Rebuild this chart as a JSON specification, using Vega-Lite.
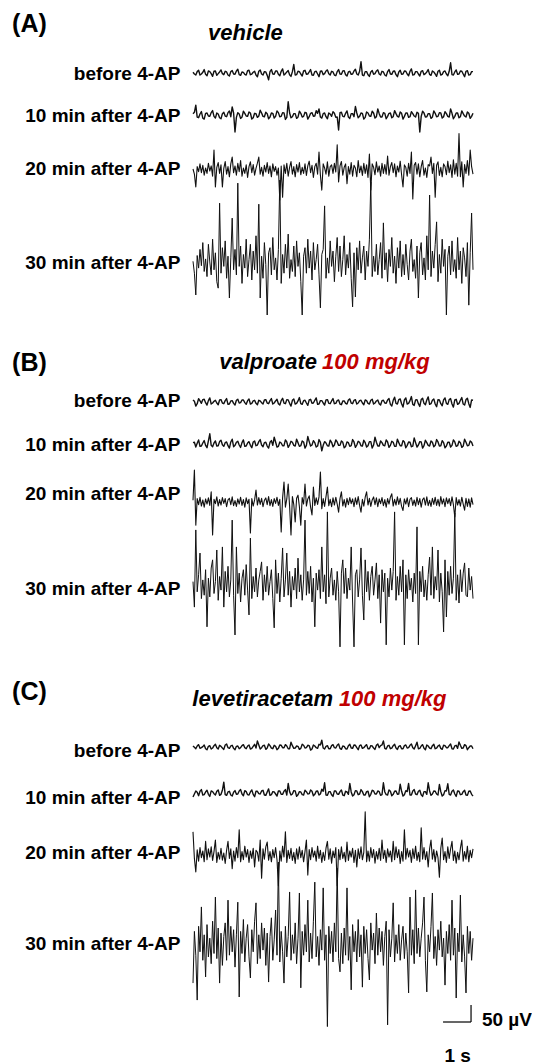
{
"$schema": "https://vega.github.io/schema/vega-lite/v6.json",
"background": "white",
"padding": {"left": 12, "top": 0, "right": 0, "bottom": 0},
"spacing": 0,
"bounds": "flush",
"config": {
  "view": {"stroke": null},
  "font": "Liberation Sans",
  "axis": {"domain": false, "ticks": false, "labels": false, "grid": false, "titleAngle": 0, "titleAlign": "right", "titleBaseline": "middle", "titleX": -13, "titleFont": "Liberation Sans", "titleFontSize": 19, "titleFontWeight": "bold", "titleColor": "#000"},
  "line": {"stroke": "#111", "strokeWidth": 1.0, "strokeJoin": "round"},
  "text": {"font": "Liberation Sans", "fontWeight": "bold", "fill": "#000", "baseline": "middle"}
},
"datasets": {
"slow": [
{"t":0,"A1":2,"A2":4,"B1":6,"B2":4,"C1":3,"C2":-12},
{"t":0.1,"A1":-6,"A2":29,"B1":-12,"B2":-9,"C1":-5,"C2":6},
{"t":0.2,"A1":8,"A2":-8,"B1":10,"B2":12,"C1":7,"C2":-8},
{"t":0.3,"A1":-3,"A2":10,"B1":-4,"B2":-6,"C1":-2,"C2":10},
{"t":0.4,"A1":10,"A2":-12,"B1":8,"B2":10,"C1":6,"C2":-5},
{"t":0.5,"A1":-8,"A2":6,"B1":-9,"B2":-11,"C1":-8,"C2":8},
{"t":0.6,"A1":4,"A2":-4,"B1":12,"B2":30,"C1":4,"C2":-10},
{"t":0.7,"A1":-10,"A2":13,"B1":-3,"B2":-8,"C1":-3,"C2":4},
{"t":0.8,"A1":6,"A2":-9,"B1":5,"B2":9,"C1":8,"C2":-6},
{"t":0.9,"A1":-2,"A2":3,"B1":-8,"B2":-5,"C1":-6,"C2":9},
{"t":1,"A1":9,"A2":-11,"B1":7,"B2":11,"C1":2,"C2":-4},
{"t":1.1,"A1":-5,"A2":8,"B1":-5,"B2":-7,"C1":-7,"C2":32},
{"t":1.2,"A1":3,"A2":-5,"B1":10,"B2":6,"C1":9,"C2":-7},
{"t":1.3,"A1":-9,"A2":12,"B1":-6,"B2":-12,"C1":-4,"C2":5},
{"t":1.4,"A1":7,"A2":24,"B1":4,"B2":14,"C1":5,"C2":-9},
{"t":1.5,"A1":-4,"A2":-50,"B1":-9,"B2":-4,"C1":-8,"C2":7},
{"t":1.6,"A1":11,"A2":7,"B1":8,"B2":8,"C1":3,"C2":-3},
{"t":1.7,"A1":-7,"A2":-10,"B1":-2,"B2":-10,"C1":-2,"C2":10},
{"t":1.8,"A1":2,"A2":11,"B1":6,"B2":12,"C1":7,"C2":-8},
{"t":1.9,"A1":-6,"A2":-3,"B1":-7,"B2":-6,"C1":-5,"C2":4},
{"t":2,"A1":8,"A2":9,"B1":9,"B2":7,"C1":6,"C2":-6},
{"t":2.1,"A1":-3,"A2":-12,"B1":-4,"B2":-11,"C1":-4,"C2":9},
{"t":2.2,"A1":5,"A2":5,"B1":5,"B2":9,"C1":8,"C2":-11},
{"t":2.3,"A1":-11,"A2":-7,"B1":-8,"B2":-3,"C1":18,"C2":5},
{"t":2.4,"A1":9,"A2":14,"B1":3,"B2":13,"C1":-6,"C2":-3},
{"t":2.5,"A1":-6,"A2":-4,"B1":-6,"B2":-8,"C1":4,"C2":8},
{"t":2.6,"A1":3,"A2":8,"B1":7,"B2":5,"C1":-7,"C2":-7},
{"t":2.7,"A1":-20,"A2":-11,"B1":-5,"B2":-12,"C1":9,"C2":12},
{"t":2.8,"A1":10,"A2":6,"B1":10,"B2":10,"C1":-3,"C2":-5},
{"t":2.9,"A1":-4,"A2":-9,"B1":-3,"B2":20,"C1":5,"C2":3},
{"t":3,"A1":6,"A2":12,"B1":8,"B2":-9,"C1":-8,"C2":-9},
{"t":3.1,"A1":-8,"A2":-5,"B1":-9,"B2":6,"C1":6,"C2":6},
{"t":3.2,"A1":12,"A2":7,"B1":11,"B2":-5,"C1":-2,"C2":-4},
{"t":3.3,"A1":-2,"A2":-13,"B1":-5,"B2":12,"C1":7,"C2":10},
{"t":3.4,"A1":7,"A2":39,"B1":6,"B2":-10,"C1":-5,"C2":28},
{"t":3.5,"A1":-10,"A2":-8,"B1":-12,"B2":8,"C1":14,"C2":-6},
{"t":3.6,"A1":25,"A2":4,"B1":9,"B2":-4,"C1":-4,"C2":7},
{"t":3.7,"A1":-5,"A2":-10,"B1":-4,"B2":14,"C1":3,"C2":-10},
{"t":3.8,"A1":4,"A2":11,"B1":13,"B2":-7,"C1":-7,"C2":4},
{"t":3.9,"A1":-9,"A2":-6,"B1":-7,"B2":9,"C1":8,"C2":-5},
{"t":4,"A1":8,"A2":8,"B1":5,"B2":-12,"C1":-3,"C2":8},
{"t":4.1,"A1":-3,"A2":-12,"B1":-10,"B2":22,"C1":5,"C2":-3},
{"t":4.2,"A1":10,"A2":5,"B1":8,"B2":-6,"C1":-9,"C2":9},
{"t":4.3,"A1":-7,"A2":-4,"B1":-3,"B2":10,"C1":6,"C2":-8},
{"t":4.4,"A1":5,"A2":13,"B1":12,"B2":-9,"C1":-2,"C2":5},
{"t":4.5,"A1":-11,"A2":18,"B1":-6,"B2":13,"C1":8,"C2":-6},
{"t":4.6,"A1":6,"A2":-9,"B1":4,"B2":-20,"C1":20,"C2":11},
{"t":4.7,"A1":-2,"A2":6,"B1":-9,"B2":7,"C1":-6,"C2":30},
{"t":4.8,"A1":9,"A2":-11,"B1":7,"B2":-5,"C1":4,"C2":-7},
{"t":4.9,"A1":-6,"A2":3,"B1":-5,"B2":11,"C1":-5,"C2":4},
{"t":5,"A1":3,"A2":10,"B1":10,"B2":-8,"C1":7,"C2":-10},
{"t":5.1,"A1":-8,"A2":-7,"B1":-4,"B2":12,"C1":-3,"C2":6},
{"t":5.2,"A1":10,"A2":-44,"B1":6,"B2":-4,"C1":9,"C2":-4},
{"t":5.3,"A1":-4,"A2":8,"B1":-8,"B2":9,"C1":-7,"C2":9},
{"t":5.4,"A1":7,"A2":-5,"B1":3,"B2":-11,"C1":2,"C2":-8},
{"t":5.5,"A1":-9,"A2":12,"B1":-6,"B2":6,"C1":-6,"C2":3},
{"t":5.6,"A1":5,"A2":-10,"B1":9,"B2":-7,"C1":8,"C2":28},
{"t":5.7,"A1":-3,"A2":4,"B1":-5,"B2":13,"C1":-4,"C2":-9},
{"t":5.8,"A1":11,"A2":25,"B1":7,"B2":-10,"C1":5,"C2":7},
{"t":5.9,"A1":-6,"A2":-8,"B1":-3,"B2":8,"C1":-8,"C2":-5},
{"t":6,"A1":33,"A2":6,"B1":5,"B2":-5,"C1":6,"C2":10},
{"t":6.1,"A1":-8,"A2":-12,"B1":-8,"B2":11,"C1":-2,"C2":-6},
{"t":6.2,"A1":4,"A2":9,"B1":4,"B2":-9,"C1":7,"C2":4},
{"t":6.3,"A1":-10,"A2":-3,"B1":-6,"B2":7,"C1":-5,"C2":-11},
{"t":6.4,"A1":7,"A2":11,"B1":8,"B2":-12,"C1":3,"C2":8},
{"t":6.5,"A1":-2,"A2":-9,"B1":-3,"B2":20,"C1":-7,"C2":-3},
{"t":6.6,"A1":9,"A2":18,"B1":6,"B2":-6,"C1":9,"C2":6},
{"t":6.7,"A1":-6,"A2":-6,"B1":-9,"B2":9,"C1":4,"C2":-7},
{"t":6.8,"A1":3,"A2":7,"B1":5,"B2":-4,"C1":18,"C2":30},
{"t":6.9,"A1":-9,"A2":-11,"B1":-4,"B2":12,"C1":-6,"C2":-5},
{"t":7,"A1":10,"A2":5,"B1":10,"B2":-10,"C1":5,"C2":9},
{"t":7.1,"A1":-4,"A2":-8,"B1":-12,"B2":8,"C1":-3,"C2":-8},
{"t":7.2,"A1":6,"A2":13,"B1":14,"B2":-7,"C1":8,"C2":5},
{"t":7.3,"A1":-11,"A2":-4,"B1":-6,"B2":14,"C1":-7,"C2":-4},
{"t":7.4,"A1":8,"A2":9,"B1":9,"B2":-5,"C1":4,"C2":26},
{"t":7.5,"A1":-3,"A2":-12,"B1":-15,"B2":10,"C1":-5,"C2":-9},
{"t":7.6,"A1":5,"A2":6,"B1":12,"B2":-11,"C1":6,"C2":7},
{"t":7.7,"A1":-8,"A2":-7,"B1":-4,"B2":6,"C1":-2,"C2":28},
{"t":7.8,"A1":12,"A2":10,"B1":16,"B2":-8,"C1":9,"C2":-6},
{"t":7.9,"A1":-5,"A2":-3,"B1":-10,"B2":18,"C1":-6,"C2":10},
{"t":8,"A1":4,"A2":8,"B1":7,"B2":-9,"C1":14,"C2":-5},
{"t":8.1,"A1":-9,"A2":-50,"B1":-13,"B2":7,"C1":-4,"C2":8},
{"t":8.2,"A1":7,"A2":11,"B1":11,"B2":-12,"C1":7,"C2":-10},
{"t":8.3,"A1":-2,"A2":-6,"B1":-8,"B2":11,"C1":-8,"C2":4},
{"t":8.4,"A1":10,"A2":4,"B1":15,"B2":-4,"C1":3,"C2":30},
{"t":8.5,"A1":-7,"A2":-10,"B1":-5,"B2":9,"C1":-5,"C2":-7},
{"t":8.6,"A1":3,"A2":12,"B1":9,"B2":-8,"C1":8,"C2":6},
{"t":8.7,"A1":-10,"A2":-5,"B1":-14,"B2":13,"C1":-3,"C2":-3},
{"t":8.8,"A1":8,"A2":7,"B1":6,"B2":-6,"C1":6,"C2":25},
{"t":8.9,"A1":-4,"A2":-9,"B1":-11,"B2":10,"C1":-7,"C2":-9},
{"t":9,"A1":6,"A2":10,"B1":12,"B2":-11,"C1":4,"C2":7},
{"t":9.1,"A1":-8,"A2":-4,"B1":-7,"B2":5,"C1":-2,"C2":27},
{"t":9.2,"A1":30,"A2":18,"B1":10,"B2":-9,"C1":9,"C2":-6},
{"t":9.3,"A1":-6,"A2":-11,"B1":-15,"B2":12,"C1":-6,"C2":9},
{"t":9.4,"A1":9,"A2":6,"B1":8,"B2":-7,"C1":5,"C2":-10},
{"t":9.5,"A1":-3,"A2":-8,"B1":-4,"B2":8,"C1":15,"C2":5},
{"t":9.6,"A1":5,"A2":12,"B1":13,"B2":-10,"C1":-4,"C2":-4},
{"t":9.7,"A1":-11,"A2":-3,"B1":-9,"B2":14,"C1":7,"C2":8},
{"t":9.8,"A1":7,"A2":9,"B1":11,"B2":-5,"C1":-8,"C2":-7},
{"t":9.9,"A1":-5,"A2":-10,"B1":-16,"B2":9,"C1":3,"C2":6},
{"t":10,"A1":4,"A2":5,"B1":5,"B2":-6,"C1":-5,"C2":-9},
{"t":0.05,"A1":-3,"A2":8,"B1":2,"B2":5,"C1":-1,"C2":-3},
{"t":0.15,"A1":4,"A2":-6,"B1":-5,"B2":2,"C1":3,"C2":2},
{"t":0.25,"A1":-6,"A2":3,"B1":3,"B2":-7,"C1":-4,"C2":5},
{"t":0.35,"A1":2,"A2":-9,"B1":7,"B2":3,"C1":1,"C2":-6},
{"t":0.45,"A1":-4,"A2":5,"B1":-2,"B2":-4,"C1":-5,"C2":3},
{"t":0.55,"A1":6,"A2":-3,"B1":4,"B2":9,"C1":2,"C2":-4},
{"t":0.65,"A1":-2,"A2":7,"B1":-6,"B2":-4,"C1":-6,"C2":6},
{"t":0.75,"A1":5,"A2":-4,"B1":2,"B2":3,"C1":4,"C2":-2},
{"t":0.85,"A1":-7,"A2":6,"B1":-3,"B2":-6,"C1":-2,"C2":5},
{"t":0.95,"A1":3,"A2":-8,"B1":6,"B2":7,"C1":5,"C2":-7},
{"t":1.05,"A1":-2,"A2":4,"B1":-3,"B2":-2,"C1":-3,"C2":8},
{"t":1.15,"A1":5,"A2":-3,"B1":4,"B2":4,"C1":6,"C2":-5},
{"t":1.25,"A1":-6,"A2":7,"B1":-7,"B2":-5,"C1":-2,"C2":3},
{"t":1.35,"A1":4,"A2":-5,"B1":3,"B2":6,"C1":3,"C2":-6},
{"t":1.45,"A1":-3,"A2":6,"B1":-4,"B2":-8,"C1":-4,"C2":2},
{"t":1.55,"A1":6,"A2":-7,"B1":5,"B2":5,"C1":2,"C2":-4},
{"t":1.65,"A1":-5,"A2":3,"B1":-3,"B2":-3,"C1":-5,"C2":6},
{"t":1.75,"A1":3,"A2":-6,"B1":6,"B2":4,"C1":4,"C2":-3},
{"t":1.85,"A1":-4,"A2":5,"B1":-2,"B2":-7,"C1":-2,"C2":7},
{"t":1.95,"A1":7,"A2":-4,"B1":4,"B2":3,"C1":3,"C2":-5},
{"t":2.05,"A1":-5,"A2":6,"B1":-6,"B2":-4,"C1":-6,"C2":3},
{"t":2.15,"A1":2,"A2":-8,"B1":3,"B2":6,"C1":2,"C2":-4},
{"t":2.25,"A1":-6,"A2":4,"B1":-4,"B2":-5,"C1":-3,"C2":5},
{"t":2.35,"A1":5,"A2":-3,"B1":5,"B2":7,"C1":6,"C2":-2},
{"t":2.45,"A1":-3,"A2":6,"B1":-2,"B2":-3,"C1":-2,"C2":6},
{"t":2.55,"A1":4,"A2":-5,"B1":6,"B2":4,"C1":5,"C2":-6},
{"t":2.65,"A1":-7,"A2":4,"B1":-3,"B2":-6,"C1":-3,"C2":3},
{"t":2.75,"A1":4,"A2":-6,"B1":4,"B2":5,"C1":4,"C2":-7},
{"t":2.85,"A1":-3,"A2":5,"B1":-6,"B2":-4,"C1":-5,"C2":4},
{"t":2.95,"A1":6,"A2":-4,"B1":3,"B2":6,"C1":2,"C2":-3},
{"t":3.05,"A1":-4,"A2":7,"B1":-5,"B2":-7,"C1":-4,"C2":6},
{"t":3.15,"A1":5,"A2":-4,"B1":4,"B2":3,"C1":5,"C2":-4},
{"t":3.25,"A1":-6,"A2":6,"B1":-3,"B2":-5,"C1":-2,"C2":5},
{"t":3.35,"A1":3,"A2":-7,"B1":7,"B2":6,"C1":3,"C2":-6},
{"t":3.45,"A1":-5,"A2":6,"B1":-4,"B2":-3,"C1":-5,"C2":4},
{"t":3.55,"A1":4,"A2":-5,"B1":5,"B2":5,"C1":4,"C2":-3},
{"t":3.65,"A1":-6,"A2":4,"B1":-6,"B2":-6,"C1":-3,"C2":6},
{"t":3.75,"A1":5,"A2":-6,"B1":3,"B2":4,"C1":2,"C2":-5},
{"t":3.85,"A1":-3,"A2":5,"B1":-5,"B2":-5,"C1":-4,"C2":3},
{"t":3.95,"A1":6,"A2":-4,"B1":4,"B2":6,"C1":5,"C2":-6},
{"t":4.05,"A1":-4,"A2":6,"B1":-3,"B2":-4,"C1":-2,"C2":4},
{"t":4.15,"A1":3,"A2":-5,"B1":6,"B2":7,"C1":4,"C2":-2},
{"t":4.25,"A1":-6,"A2":7,"B1":-4,"B2":-3,"C1":-6,"C2":5},
{"t":4.35,"A1":4,"A2":-3,"B1":5,"B2":4,"C1":3,"C2":-4},
{"t":4.45,"A1":-3,"A2":5,"B1":-7,"B2":-6,"C1":-4,"C2":6},
{"t":4.55,"A1":5,"A2":-6,"B1":4,"B2":5,"C1":6,"C2":-3},
{"t":4.65,"A1":-5,"A2":4,"B1":-3,"B2":-4,"C1":-3,"C2":5},
{"t":4.75,"A1":6,"A2":-5,"B1":6,"B2":3,"C1":2,"C2":-6},
{"t":4.85,"A1":-2,"A2":6,"B1":-4,"B2":-6,"C1":-5,"C2":4},
{"t":4.95,"A1":5,"A2":-4,"B1":3,"B2":5,"C1":4,"C2":-5},
{"t":5.05,"A1":-6,"A2":5,"B1":-5,"B2":-3,"C1":-2,"C2":6},
{"t":5.15,"A1":4,"A2":-6,"B1":4,"B2":6,"C1":5,"C2":-3},
{"t":5.25,"A1":-3,"A2":7,"B1":-6,"B2":-4,"C1":-4,"C2":4},
{"t":5.35,"A1":6,"A2":-4,"B1":3,"B2":5,"C1":3,"C2":-6},
{"t":5.45,"A1":-5,"A2":5,"B1":-4,"B2":-7,"C1":-5,"C2":5},
{"t":5.55,"A1":3,"A2":-6,"B1":6,"B2":4,"C1":4,"C2":-4},
{"t":5.65,"A1":-4,"A2":4,"B1":-3,"B2":-5,"C1":-3,"C2":3},
{"t":5.75,"A1":6,"A2":-5,"B1":5,"B2":6,"C1":6,"C2":-5},
{"t":5.85,"A1":-3,"A2":6,"B1":-6,"B2":-3,"C1":-2,"C2":6},
{"t":5.95,"A1":5,"A2":-4,"B1":4,"B2":5,"C1":4,"C2":-3},
{"t":6.05,"A1":-6,"A2":5,"B1":-3,"B2":-6,"C1":-4,"C2":4},
{"t":6.15,"A1":4,"A2":-7,"B1":6,"B2":4,"C1":3,"C2":-6},
{"t":6.25,"A1":-5,"A2":6,"B1":-4,"B2":-5,"C1":-5,"C2":5},
{"t":6.35,"A1":3,"A2":-4,"B1":5,"B2":7,"C1":4,"C2":-4},
{"t":6.45,"A1":-4,"A2":6,"B1":-6,"B2":-3,"C1":-3,"C2":6},
{"t":6.55,"A1":6,"A2":-5,"B1":3,"B2":5,"C1":5,"C2":-3},
{"t":6.65,"A1":-3,"A2":4,"B1":-5,"B2":-6,"C1":-2,"C2":4},
{"t":6.75,"A1":5,"A2":-6,"B1":4,"B2":4,"C1":6,"C2":-5},
{"t":6.85,"A1":-6,"A2":5,"B1":-3,"B2":-5,"C1":-4,"C2":3},
{"t":6.95,"A1":4,"A2":-4,"B1":6,"B2":6,"C1":3,"C2":-6},
{"t":7.05,"A1":-3,"A2":6,"B1":-7,"B2":-4,"C1":-5,"C2":5},
{"t":7.15,"A1":5,"A2":-5,"B1":5,"B2":5,"C1":4,"C2":-4},
{"t":7.25,"A1":-5,"A2":4,"B1":-4,"B2":-7,"C1":-3,"C2":6},
{"t":7.35,"A1":3,"A2":-6,"B1":7,"B2":4,"C1":2,"C2":-3},
{"t":7.45,"A1":-4,"A2":5,"B1":-5,"B2":-5,"C1":-5,"C2":5},
{"t":7.55,"A1":6,"A2":-4,"B1":6,"B2":6,"C1":4,"C2":-5},
{"t":7.65,"A1":-3,"A2":6,"B1":-6,"B2":-4,"C1":-3,"C2":4},
{"t":7.75,"A1":5,"A2":-5,"B1":4,"B2":5,"C1":5,"C2":-6},
{"t":7.85,"A1":-6,"A2":4,"B1":-7,"B2":-6,"C1":-2,"C2":6},
{"t":7.95,"A1":4,"A2":-6,"B1":6,"B2":4,"C1":4,"C2":-3},
{"t":8.05,"A1":-3,"A2":5,"B1":-5,"B2":-3,"C1":-5,"C2":5},
{"t":8.15,"A1":5,"A2":-4,"B1":7,"B2":6,"C1":3,"C2":-5},
{"t":8.25,"A1":-5,"A2":6,"B1":-4,"B2":-5,"C1":-4,"C2":4},
{"t":8.35,"A1":3,"A2":-5,"B1":6,"B2":4,"C1":6,"C2":-4},
{"t":8.45,"A1":-4,"A2":4,"B1":-7,"B2":-6,"C1":-3,"C2":6},
{"t":8.55,"A1":6,"A2":-6,"B1":5,"B2":5,"C1":4,"C2":-3},
{"t":8.65,"A1":-3,"A2":5,"B1":-6,"B2":-4,"C1":-5,"C2":5},
{"t":8.75,"A1":5,"A2":-4,"B1":7,"B2":6,"C1":3,"C2":-6},
{"t":8.85,"A1":-6,"A2":6,"B1":-5,"B2":-5,"C1":-4,"C2":4},
{"t":8.95,"A1":4,"A2":-5,"B1":6,"B2":4,"C1":5,"C2":-5},
{"t":9.05,"A1":-3,"A2":4,"B1":-4,"B2":-6,"C1":-2,"C2":6},
{"t":9.15,"A1":5,"A2":-6,"B1":7,"B2":5,"C1":4,"C2":-4},
{"t":9.25,"A1":-5,"A2":5,"B1":-6,"B2":-4,"C1":-5,"C2":5},
{"t":9.35,"A1":3,"A2":-4,"B1":6,"B2":6,"C1":3,"C2":-3},
{"t":9.45,"A1":-4,"A2":6,"B1":-7,"B2":-5,"C1":-4,"C2":6},
{"t":9.55,"A1":6,"A2":-5,"B1":5,"B2":4,"C1":5,"C2":-5},
{"t":9.65,"A1":-3,"A2":4,"B1":-6,"B2":-6,"C1":-3,"C2":4},
{"t":9.75,"A1":5,"A2":-6,"B1":7,"B2":5,"C1":4,"C2":-6},
{"t":9.85,"A1":-6,"A2":5,"B1":-5,"B2":-4,"C1":-2,"C2":5},
{"t":9.95,"A1":4,"A2":-4,"B1":6,"B2":5,"C1":3,"C2":-4}
],
"fast": [
{"t":0,"A3":3,"A4":5,"B3":5,"B4":10,"C3":68,"C4":-112},
{"t":0.05,"A3":-12,"A4":-30,"B3":94,"B4":-65,"C3":-10,"C4":40},
{"t":0.1,"A3":-50,"A4":-94,"B3":-68,"B4":162,"C3":-50,"C4":-30},
{"t":0.15,"A3":10,"A4":22,"B3":10,"B4":-20,"C3":15,"C4":-162},
{"t":0.2,"A3":-5,"A4":-15,"B3":-8,"B4":30,"C3":-18,"C4":55},
{"t":0.25,"A3":18,"A4":40,"B3":14,"B4":94,"C3":22,"C4":-20},
{"t":0.3,"A3":-8,"A4":-8,"B3":-12,"B4":-40,"C3":-8,"C4":112},
{"t":0.35,"A3":14,"A4":60,"B3":6,"B4":15,"C3":12,"C4":-45},
{"t":0.4,"A3":-15,"A4":-25,"B3":-15,"B4":-30,"C3":-20,"C4":30},
{"t":0.45,"A3":6,"A4":12,"B3":9,"B4":45,"C3":40,"C4":-94},
{"t":0.5,"A3":-10,"A4":-40,"B3":-6,"B4":-123,"C3":-14,"C4":60},
{"t":0.55,"A3":20,"A4":55,"B3":12,"B4":20,"C3":18,"C4":-35},
{"t":0.6,"A3":-3,"A4":3,"B3":-10,"B4":-35,"C3":-6,"C4":20},
{"t":0.65,"A3":12,"A4":-35,"B3":30,"B4":50,"C3":24,"C4":-55},
{"t":0.7,"A3":-18,"A4":70,"B3":-97,"B4":74,"C3":-16,"C4":70},
{"t":0.75,"A3":59,"A4":-20,"B3":8,"B4":-25,"C3":10,"C4":-25},
{"t":0.8,"A3":-50,"A4":30,"B3":-5,"B4":10,"C3":44,"C4":141},
{"t":0.85,"A3":8,"A4":-55,"B3":15,"B4":103,"C3":-22,"C4":-40},
{"t":0.9,"A3":22,"A4":-74,"B3":-12,"B4":-45,"C3":8,"C4":50},
{"t":0.95,"A3":-10,"A4":176,"B3":7,"B4":25,"C3":-12,"C4":-112},
{"t":1,"A3":15,"A4":-30,"B3":-9,"B4":-15,"C3":20,"C4":35},
{"t":1.05,"A3":-50,"A4":45,"B3":13,"B4":112,"C3":-15,"C4":-60},
{"t":1.1,"A3":5,"A4":-10,"B3":-4,"B4":-65,"C3":6,"C4":25},
{"t":1.15,"A3":25,"A4":65,"B3":10,"B4":40,"C3":-25,"C4":65},
{"t":1.2,"A3":-12,"A4":-45,"B3":-14,"B4":-20,"C3":14,"C4":-45},
{"t":1.25,"A3":10,"A4":20,"B3":6,"B4":55,"C3":40,"C4":132},
{"t":1.3,"A3":-20,"A4":-103,"B3":11,"B4":-35,"C3":-10,"C4":-30},
{"t":1.35,"A3":18,"A4":15,"B3":-8,"B4":15,"C3":18,"C4":55},
{"t":1.4,"A3":38,"A4":132,"B3":15,"B4":191,"C3":-40,"C4":-20},
{"t":1.45,"A3":-8,"A4":-20,"B3":-11,"B4":-30,"C3":12,"C4":45},
{"t":1.5,"A3":12,"A4":40,"B3":4,"B4":-147,"C3":-18,"C4":-65},
{"t":1.55,"A3":-15,"A4":-35,"B3":-13,"B4":112,"C3":22,"C4":30},
{"t":1.6,"A3":20,"A4":235,"B3":9,"B4":-25,"C3":-8,"C4":126},
{"t":1.65,"A3":-5,"A4":-10,"B3":-6,"B4":35,"C3":74,"C4":-153},
{"t":1.7,"A3":28,"A4":50,"B3":14,"B4":-50,"C3":-20,"C4":40},
{"t":1.75,"A3":-18,"A4":-60,"B3":-10,"B4":20,"C3":10,"C4":-25},
{"t":1.8,"A3":6,"A4":25,"B3":7,"B4":45,"C3":-14,"C4":75},
{"t":1.85,"A3":-10,"A4":-15,"B3":-15,"B4":-30,"C3":26,"C4":-50},
{"t":1.9,"A3":15,"A4":70,"B3":12,"B4":60,"C3":-6,"C4":20},
{"t":1.95,"A3":-22,"A4":-40,"B3":-5,"B4":-15,"C3":16,"C4":60},
{"t":2,"A3":10,"A4":10,"B3":8,"B4":-88,"C3":-22,"C4":-35},
{"t":2.05,"A3":24,"A4":55,"B3":-91,"B4":138,"C3":12,"C4":-97},
{"t":2.1,"A3":-8,"A4":-50,"B3":10,"B4":-40,"C3":-10,"C4":45},
{"t":2.15,"A3":16,"A4":35,"B3":-12,"B4":25,"C3":20,"C4":-20},
{"t":2.2,"A3":-15,"A4":-20,"B3":6,"B4":-20,"C3":-35,"C4":70},
{"t":2.25,"A3":5,"A4":80,"B3":35,"B4":50,"C3":14,"C4":124},
{"t":2.3,"A3":20,"A4":-30,"B3":-9,"B4":-35,"C3":8,"C4":-55},
{"t":2.35,"A3":38,"A4":173,"B3":13,"B4":15,"C3":-18,"C4":30},
{"t":2.4,"A3":-12,"A4":-103,"B3":-7,"B4":40,"C3":44,"C4":-40},
{"t":2.45,"A3":8,"A4":20,"B3":11,"B4":68,"C3":-68,"C4":65},
{"t":2.5,"A3":-18,"A4":-45,"B3":-14,"B4":-45,"C3":18,"C4":-15},
{"t":2.55,"A3":14,"A4":60,"B3":5,"B4":30,"C3":-12,"C4":50},
{"t":2.6,"A3":-6,"A4":-5,"B3":12,"B4":-20,"C3":24,"C4":-60},
{"t":2.65,"A3":22,"A4":-153,"B3":-8,"B4":55,"C3":38,"C4":35},
{"t":2.7,"A3":-10,"A4":30,"B3":16,"B4":-30,"C3":-15,"C4":-109},
{"t":2.75,"A3":12,"A4":45,"B3":-11,"B4":10,"C3":10,"C4":25},
{"t":2.8,"A3":-20,"A4":-35,"B3":7,"B4":45,"C3":-20,"C4":80},
{"t":2.85,"A3":18,"A4":75,"B3":-13,"B4":-40,"C3":16,"C4":-45},
{"t":2.9,"A3":-4,"A4":-20,"B3":10,"B4":-126,"C3":-8,"C4":15},
{"t":2.95,"A3":10,"A4":15,"B3":-4,"B4":74,"C3":22,"C4":103},
{"t":3,"A3":-15,"A4":-50,"B3":14,"B4":-25,"C3":-14,"C4":-30},
{"t":3.05,"A3":6,"A4":40,"B3":-10,"B4":35,"C3":-90,"C4":244},
{"t":3.1,"A3":-88,"A4":244,"B3":8,"B4":-50,"C3":12,"C4":-50},
{"t":3.15,"A3":12,"A4":-60,"B3":-88,"B4":20,"C3":-18,"C4":40},
{"t":3.2,"A3":-80,"A4":25,"B3":12,"B4":109,"C3":26,"C4":-20},
{"t":3.25,"A3":15,"A4":-30,"B3":59,"B4":-35,"C3":-6,"C4":-112},
{"t":3.3,"A3":-10,"A4":55,"B3":-15,"B4":15,"C3":68,"C4":55},
{"t":3.35,"A3":20,"A4":-15,"B3":9,"B4":94,"C3":-22,"C4":-35},
{"t":3.4,"A3":-18,"A4":85,"B3":53,"B4":-30,"C3":14,"C4":25},
{"t":3.45,"A3":8,"A4":-45,"B3":-12,"B4":40,"C3":-10,"C4":156},
{"t":3.5,"A3":25,"A4":10,"B3":-97,"B4":-65,"C3":20,"C4":-45},
{"t":3.55,"A3":-12,"A4":-25,"B3":16,"B4":25,"C3":-16,"C4":30},
{"t":3.6,"A3":10,"A4":50,"B3":-8,"B4":-15,"C3":8,"C4":-25},
{"t":3.65,"A3":-20,"A4":-40,"B3":-59,"B4":50,"C3":-25,"C4":65},
{"t":3.7,"A3":16,"A4":65,"B3":11,"B4":-40,"C3":18,"C4":-55},
{"t":3.75,"A3":-6,"A4":-10,"B3":20,"B4":79,"C3":-12,"C4":20},
{"t":3.8,"A3":22,"A4":30,"B3":-14,"B4":-20,"C3":24,"C4":153},
{"t":3.85,"A3":-14,"A4":-55,"B3":-68,"B4":30,"C3":-8,"C4":-126},
{"t":3.9,"A3":8,"A4":-153,"B3":13,"B4":-45,"C3":14,"C4":40},
{"t":3.95,"A3":-10,"A4":20,"B3":-6,"B4":15,"C3":-20,"C4":-30},
{"t":4,"A3":18,"A4":45,"B3":53,"B4":191,"C3":10,"C4":60},
{"t":4.05,"A3":-16,"A4":-30,"B3":-12,"B4":-30,"C3":44,"C4":-20},
{"t":4.1,"A3":12,"A4":70,"B3":9,"B4":40,"C3":-59,"C4":132},
{"t":4.15,"A3":26,"A4":-15,"B3":18,"B4":-25,"C3":16,"C4":-50},
{"t":4.2,"A3":-8,"A4":35,"B3":-15,"B4":55,"C3":-14,"C4":35},
{"t":4.25,"A3":14,"A4":-50,"B3":-38,"B4":-50,"C3":22,"C4":-40},
{"t":4.3,"A3":-22,"A4":60,"B3":44,"B4":20,"C3":-6,"C4":70},
{"t":4.35,"A3":10,"A4":-20,"B3":-10,"B4":-123,"C3":12,"C4":185},
{"t":4.4,"A3":20,"A4":10,"B3":12,"B4":35,"C3":-18,"C4":-35},
{"t":4.45,"A3":-12,"A4":55,"B3":-7,"B4":-15,"C3":26,"C4":25},
{"t":4.5,"A3":53,"A4":-35,"B3":15,"B4":45,"C3":-10,"C4":-60},
{"t":4.55,"A3":-15,"A4":-132,"B3":88,"B4":-40,"C3":14,"C4":45},
{"t":4.6,"A3":-59,"A4":25,"B3":-20,"B4":112,"C3":-22,"C4":-15},
{"t":4.65,"A3":18,"A4":40,"B3":10,"B4":-20,"C3":8,"C4":168},
{"t":4.7,"A3":6,"A4":168,"B3":-13,"B4":30,"C3":-16,"C4":-45},
{"t":4.75,"A3":-12,"A4":-45,"B3":16,"B4":-55,"C3":20,"C4":30},
{"t":4.8,"A3":24,"A4":15,"B3":44,"B4":215,"C3":40,"C4":-240},
{"t":4.85,"A3":-18,"A4":-30,"B3":-11,"B4":-35,"C3":-12,"C4":55},
{"t":4.9,"A3":10,"A4":65,"B3":8,"B4":20,"C3":18,"C4":-25},
{"t":4.95,"A3":15,"A4":-10,"B3":-14,"B4":50,"C3":-24,"C4":40},
{"t":5,"A3":-10,"A4":35,"B3":12,"B4":-30,"C3":12,"C4":-50},
{"t":5.05,"A3":20,"A4":-55,"B3":-9,"B4":15,"C3":-8,"C4":65},
{"t":5.1,"A3":-6,"A4":20,"B3":14,"B4":-45,"C3":22,"C4":-20},
{"t":5.15,"A3":74,"A4":75,"B3":-6,"B4":40,"C3":-90,"C4":226},
{"t":5.2,"A3":-35,"A4":-25,"B3":-30,"B4":-20,"C3":16,"C4":-40},
{"t":5.25,"A3":12,"A4":50,"B3":10,"B4":-182,"C3":-14,"C4":-79},
{"t":5.3,"A3":25,"A4":-40,"B3":30,"B4":35,"C3":24,"C4":35},
{"t":5.35,"A3":-15,"A4":10,"B3":-12,"B4":74,"C3":-10,"C4":-55},
{"t":5.4,"A3":8,"A4":80,"B3":7,"B4":-25,"C3":8,"C4":50},
{"t":5.45,"A3":18,"A4":-35,"B3":-15,"B4":50,"C3":-20,"C4":-30},
{"t":5.5,"A3":-40,"A4":25,"B3":11,"B4":-40,"C3":38,"C4":168},
{"t":5.55,"A3":10,"A4":-15,"B3":-8,"B4":20,"C3":-16,"C4":-45},
{"t":5.6,"A3":-12,"A4":60,"B3":13,"B4":-15,"C3":12,"C4":25},
{"t":5.65,"A3":22,"A4":-45,"B3":-5,"B4":112,"C3":-6,"C4":-132},
{"t":5.7,"A3":-18,"A4":-129,"B3":9,"B4":-50,"C3":20,"C4":60},
{"t":5.75,"A3":14,"A4":30,"B3":-14,"B4":-182,"C3":-22,"C4":-20},
{"t":5.8,"A3":6,"A4":-100,"B3":12,"B4":30,"C3":14,"C4":40},
{"t":5.85,"A3":-20,"A4":45,"B3":-7,"B4":45,"C3":-35,"C4":-50},
{"t":5.9,"A3":28,"A4":-20,"B3":16,"B4":-35,"C3":18,"C4":75},
{"t":5.95,"A3":-8,"A4":65,"B3":-10,"B4":15,"C3":-10,"C4":-35},
{"t":6,"A3":12,"A4":-30,"B3":-30,"B4":109,"C3":24,"C4":30},
{"t":6.05,"A3":-16,"A4":15,"B3":8,"B4":-30,"C3":-14,"C4":-124},
{"t":6.1,"A3":20,"A4":50,"B3":-12,"B4":-103,"C3":8,"C4":55},
{"t":6.15,"A3":-10,"A4":-50,"B3":14,"B4":74,"C3":127,"C4":-25},
{"t":6.2,"A3":15,"A4":35,"B3":30,"B4":-20,"C3":-20,"C4":45},
{"t":6.25,"A3":-22,"A4":-10,"B3":-9,"B4":40,"C3":12,"C4":-40},
{"t":6.3,"A3":47,"A4":70,"B3":11,"B4":-45,"C3":-18,"C4":-103},
{"t":6.35,"A3":-59,"A4":238,"B3":-13,"B4":25,"C3":22,"C4":65},
{"t":6.4,"A3":18,"A4":-40,"B3":6,"B4":55,"C3":-8,"C4":-15},
{"t":6.45,"A3":8,"A4":20,"B3":15,"B4":-30,"C3":16,"C4":35},
{"t":6.5,"A3":-14,"A4":-25,"B3":-8,"B4":15,"C3":-24,"C4":-55},
{"t":6.55,"A3":24,"A4":55,"B3":12,"B4":65,"C3":10,"C4":94},
{"t":6.6,"A3":-6,"A4":-35,"B3":-14,"B4":-40,"C3":-12,"C4":-30},
{"t":6.65,"A3":12,"A4":10,"B3":9,"B4":30,"C3":20,"C4":50},
{"t":6.7,"A3":-18,"A4":60,"B3":-5,"B4":-112,"C3":-16,"C4":-20},
{"t":6.75,"A3":20,"A4":-45,"B3":13,"B4":45,"C3":44,"C4":40},
{"t":6.8,"A3":-10,"A4":118,"B3":-11,"B4":-20,"C3":-10,"C4":-60},
{"t":6.85,"A3":16,"A4":-20,"B3":7,"B4":35,"C3":14,"C4":25},
{"t":6.9,"A3":-12,"A4":30,"B3":-15,"B4":-176,"C3":-22,"C4":70},
{"t":6.95,"A3":41,"A4":-55,"B3":10,"B4":20,"C3":18,"C4":-235},
{"t":7,"A3":-15,"A4":40,"B3":-6,"B4":-35,"C3":-6,"C4":45},
{"t":7.05,"A3":10,"A4":-10,"B3":14,"B4":50,"C3":12,"C4":-35},
{"t":7.1,"A3":22,"A4":75,"B3":24,"B4":-15,"C3":-20,"C4":20},
{"t":7.15,"A3":-8,"A4":-30,"B3":-12,"B4":40,"C3":40,"C4":124},
{"t":7.2,"A3":18,"A4":20,"B3":8,"B4":215,"C3":-14,"C4":-50},
{"t":7.25,"A3":-20,"A4":-60,"B3":-9,"B4":-45,"C3":24,"C4":30},
{"t":7.3,"A3":12,"A4":45,"B3":15,"B4":25,"C3":-8,"C4":-25},
{"t":7.35,"A3":-6,"A4":-15,"B3":-7,"B4":-30,"C3":16,"C4":60},
{"t":7.4,"A3":26,"A4":65,"B3":11,"B4":55,"C3":-25,"C4":-45},
{"t":7.45,"A3":-14,"A4":-40,"B3":-13,"B4":-20,"C3":10,"C4":15},
{"t":7.5,"A3":-50,"A4":25,"B3":-25,"B4":74,"C3":-18,"C4":55},
{"t":7.55,"A3":15,"A4":-35,"B3":9,"B4":-176,"C3":74,"C4":-40},
{"t":7.6,"A3":8,"A4":55,"B3":-6,"B4":30,"C3":-12,"C4":35},
{"t":7.65,"A3":-18,"A4":-5,"B3":12,"B4":-40,"C3":20,"C4":-20},
{"t":7.7,"A3":20,"A4":-50,"B3":-14,"B4":45,"C3":-6,"C4":-141},
{"t":7.75,"A3":-10,"A4":35,"B3":8,"B4":-15,"C3":14,"C4":141},
{"t":7.8,"A3":53,"A4":70,"B3":13,"B4":20,"C3":-22,"C4":-30},
{"t":7.85,"A3":-85,"A4":-25,"B3":-10,"B4":-50,"C3":18,"C4":45},
{"t":7.9,"A3":14,"A4":10,"B3":6,"B4":35,"C3":-10,"C4":-55},
{"t":7.95,"A3":22,"A4":-45,"B3":-12,"B4":-25,"C3":26,"C4":162},
{"t":8,"A3":-12,"A4":50,"B3":14,"B4":171,"C3":-16,"C4":-25},
{"t":8.05,"A3":18,"A4":-103,"B3":-8,"B4":-176,"C3":8,"C4":50},
{"t":8.1,"A3":-20,"A4":30,"B3":10,"B4":40,"C3":-20,"C4":-35},
{"t":8.15,"A3":10,"A4":60,"B3":-15,"B4":-20,"C3":80,"C4":20},
{"t":8.2,"A3":28,"A4":-35,"B3":7,"B4":55,"C3":-12,"C4":65},
{"t":8.25,"A3":-15,"A4":15,"B3":12,"B4":-35,"C3":22,"C4":141},
{"t":8.3,"A3":6,"A4":-50,"B3":-9,"B4":15,"C3":-14,"C4":-45},
{"t":8.35,"A3":-22,"A4":80,"B3":15,"B4":-45,"C3":10,"C4":-138},
{"t":8.4,"A3":16,"A4":-20,"B3":-11,"B4":30,"C3":-35,"C4":30},
{"t":8.45,"A3":12,"A4":200,"B3":5,"B4":82,"C3":18,"C4":-20},
{"t":8.5,"A3":38,"A4":-40,"B3":-13,"B4":-30,"C3":44,"C4":55},
{"t":8.55,"A3":-10,"A4":35,"B3":11,"B4":112,"C3":-12,"C4":153},
{"t":8.6,"A3":20,"A4":-15,"B3":-7,"B4":-40,"C3":16,"C4":-40},
{"t":8.65,"A3":-80,"A4":55,"B3":14,"B4":25,"C3":-20,"C4":25},
{"t":8.7,"A3":14,"A4":121,"B3":-10,"B4":-15,"C3":12,"C4":-60},
{"t":8.75,"A3":24,"A4":-55,"B3":8,"B4":103,"C3":-8,"C4":45},
{"t":8.8,"A3":-16,"A4":25,"B3":-12,"B4":-50,"C3":-65,"C4":-15},
{"t":8.85,"A3":8,"A4":-30,"B3":16,"B4":35,"C3":20,"C4":70},
{"t":8.9,"A3":-20,"A4":70,"B3":-6,"B4":-20,"C3":50,"C4":-35},
{"t":8.95,"A3":18,"A4":-10,"B3":9,"B4":-138,"C3":-14,"C4":20},
{"t":9,"A3":10,"A4":40,"B3":-14,"B4":74,"C3":10,"C4":-118},
{"t":9.05,"A3":-14,"A4":-153,"B3":12,"B4":-94,"C3":-22,"C4":40},
{"t":9.1,"A3":26,"A4":20,"B3":-5,"B4":40,"C3":24,"C4":-25},
{"t":9.15,"A3":-8,"A4":50,"B3":10,"B4":-30,"C3":-10,"C4":60},
{"t":9.2,"A3":15,"A4":-35,"B3":-11,"B4":55,"C3":18,"C4":-45},
{"t":9.25,"A3":-22,"A4":65,"B3":15,"B4":-25,"C3":40,"C4":132},
{"t":9.3,"A3":30,"A4":-25,"B3":-8,"B4":20,"C3":-16,"C4":-30},
{"t":9.35,"A3":-12,"A4":10,"B3":-44,"B4":212,"C3":12,"C4":50},
{"t":9.4,"A3":20,"A4":-45,"B3":13,"B4":-45,"C3":-24,"C4":-156},
{"t":9.45,"A3":-18,"A4":75,"B3":-9,"B4":30,"C3":8,"C4":35},
{"t":9.5,"A3":107,"A4":-20,"B3":7,"B4":-53,"C3":-14,"C4":-20},
{"t":9.55,"A3":-20,"A4":35,"B3":-12,"B4":45,"C3":20,"C4":147},
{"t":9.6,"A3":24,"A4":-60,"B3":14,"B4":-20,"C3":44,"C4":-50},
{"t":9.65,"A3":-50,"A4":45,"B3":-6,"B4":35,"C3":-18,"C4":30},
{"t":9.7,"A3":16,"A4":15,"B3":-24,"B4":65,"C3":10,"C4":-35},
{"t":9.75,"A3":-10,"A4":-40,"B3":11,"B4":-30,"C3":-12,"C4":-141},
{"t":9.8,"A3":28,"A4":60,"B3":-13,"B4":-35,"C3":26,"C4":55},
{"t":9.85,"A3":-15,"A4":-124,"B3":9,"B4":50,"C3":-20,"C4":-25},
{"t":9.9,"A3":59,"A4":30,"B3":-15,"B4":-15,"C3":14,"C4":40},
{"t":9.95,"A3":10,"A4":147,"B3":12,"B4":25,"C3":-8,"C4":-45},
{"t":10,"A3":-12,"A4":-20,"B3":-8,"B4":-40,"C3":18,"C4":20}
]
},
"vconcat": [
{
  "width": 280, "height": 50,
  "data": {"values": [{}]},
  "layer": [
    {"mark": {"type": "text", "text": "(A)", "align": "left", "fontSize": 25, "dy": -1},
     "encoding": {"x": {"datum": -6.46, "type": "quantitative", "scale": {"domain": [0, 10], "nice": false, "zero": false}, "axis": null}}},
    {"mark": {"type": "text", "text": "vehicle", "align": "left", "fontSize": 22, "fontStyle": "italic", "dy": 8},
     "encoding": {"x": {"datum": 0.54, "type": "quantitative"}}}
  ]
},
{
  "width": 280, "height": 44, "data": {"name": "slow"}, "mark": {"type": "line", "strokeWidth": 1.4},
  "encoding": {
    "x": {"field": "t", "type": "quantitative", "scale": {"domain": [0, 10], "nice": false, "zero": false}, "axis": null},
    "y": {"field": "A1", "type": "quantitative", "scale": {"domain": [-61.8, 67.6], "nice": false, "zero": false}, "axis": {"title": "before 4-AP", "titleY": 23}}
  }
},
{
  "width": 280, "height": 48, "data": {"name": "slow"}, "mark": {"type": "line", "strokeWidth": 1.4},
  "encoding": {
    "x": {"field": "t", "type": "quantitative", "scale": {"domain": [0, 10], "nice": false, "zero": false}, "axis": null},
    "y": {"field": "A2", "type": "quantitative", "scale": {"domain": [-79.4, 61.8], "nice": false, "zero": false}, "axis": {"title": "10 min after 4-AP", "titleY": 21}}
  }
},
{
  "width": 280, "height": 68, "data": {"name": "fast"}, "mark": {"type": "line", "strokeWidth": 1.1},
  "encoding": {
    "x": {"field": "t", "type": "quantitative", "scale": {"domain": [0, 10], "nice": false, "zero": false}, "axis": null},
    "y": {"field": "A3", "type": "quantitative", "scale": {"domain": [-117.6, 82.4], "nice": false, "zero": false}, "axis": {"title": "20 min after 4-AP", "titleY": 26}}
  }
},
{
  "width": 280, "height": 125, "data": {"name": "fast"}, "mark": {"type": "line", "strokeWidth": 1.0},
  "encoding": {
    "x": {"field": "t", "type": "quantitative", "scale": {"domain": [0, 10], "nice": false, "zero": false}, "axis": null},
    "y": {"field": "A4", "type": "quantitative", "scale": {"domain": [-211.8, 155.9], "nice": false, "zero": false}, "axis": {"title": "30 min after 4-AP", "titleY": 52}}
  }
},
{
  "width": 280, "height": 47,
  "data": {"values": [{}]},
  "layer": [
    {"mark": {"type": "text", "text": "(B)", "align": "left", "fontSize": 25, "dy": 4},
     "encoding": {"x": {"datum": -6.46, "type": "quantitative", "scale": {"domain": [0, 10], "nice": false, "zero": false}, "axis": null}}},
    {"mark": {"type": "text", "text": "valproate", "align": "right", "fontSize": 22, "fontStyle": "italic", "dy": 3},
     "encoding": {"x": {"datum": 4.43, "type": "quantitative"}}},
    {"mark": {"type": "text", "text": "100 mg/kg", "align": "left", "fontSize": 22, "fontStyle": "italic", "fill": "#c00000", "dy": 3},
     "encoding": {"x": {"datum": 4.61, "type": "quantitative"}}}
  ]
},
{
  "width": 280, "height": 41, "data": {"name": "slow"}, "mark": {"type": "line", "strokeWidth": 1.4},
  "encoding": {
    "x": {"field": "t", "type": "quantitative", "scale": {"domain": [0, 10], "nice": false, "zero": false}, "axis": null},
    "y": {"field": "B1", "type": "quantitative", "scale": {"domain": [-61.8, 58.8], "nice": false, "zero": false}, "axis": {"title": "before 4-AP", "titleY": 18}}
  }
},
{
  "width": 280, "height": 49, "data": {"name": "slow"}, "mark": {"type": "line", "strokeWidth": 1.4},
  "encoding": {
    "x": {"field": "t", "type": "quantitative", "scale": {"domain": [0, 10], "nice": false, "zero": false}, "axis": null},
    "y": {"field": "B2", "type": "quantitative", "scale": {"domain": [-82.4, 61.8], "nice": false, "zero": false}, "axis": {"title": "10 min after 4-AP", "titleY": 21}}
  }
},
{
  "width": 280, "height": 68, "data": {"name": "fast"}, "mark": {"type": "line", "strokeWidth": 1.1},
  "encoding": {
    "x": {"field": "t", "type": "quantitative", "scale": {"domain": [0, 10], "nice": false, "zero": false}, "axis": null},
    "y": {"field": "B3", "type": "quantitative", "scale": {"domain": [-111.8, 88.2], "nice": false, "zero": false}, "axis": {"title": "20 min after 4-AP", "titleY": 21}}
  }
},
{
  "width": 280, "height": 125, "data": {"name": "fast"}, "mark": {"type": "line", "strokeWidth": 1.0},
  "encoding": {
    "x": {"field": "t", "type": "quantitative", "scale": {"domain": [0, 10], "nice": false, "zero": false}, "axis": null},
    "y": {"field": "B4", "type": "quantitative", "scale": {"domain": [-235.3, 132.4], "nice": false, "zero": false}, "axis": {"title": "30 min after 4-AP", "titleY": 48}}
  }
},
{
  "width": 280, "height": 57,
  "data": {"values": [{}]},
  "layer": [
    {"mark": {"type": "text", "text": "(C)", "align": "left", "fontSize": 25, "dy": -2},
     "encoding": {"x": {"datum": -6.46, "type": "quantitative", "scale": {"domain": [0, 10], "nice": false, "zero": false}, "axis": null}}},
    {"mark": {"type": "text", "text": "levetiracetam", "align": "right", "fontSize": 22, "fontStyle": "italic", "dy": 5},
     "encoding": {"x": {"datum": 5.0, "type": "quantitative"}}},
    {"mark": {"type": "text", "text": "100 mg/kg", "align": "left", "fontSize": 22, "fontStyle": "italic", "fill": "#c00000", "dy": 5},
     "encoding": {"x": {"datum": 5.21, "type": "quantitative"}}}
  ]
},
{
  "width": 280, "height": 48, "data": {"name": "slow"}, "mark": {"type": "line", "strokeWidth": 1.4},
  "encoding": {
    "x": {"field": "t", "type": "quantitative", "scale": {"domain": [0, 10], "nice": false, "zero": false}, "axis": null},
    "y": {"field": "C1", "type": "quantitative", "scale": {"domain": [-67.6, 73.5], "nice": false, "zero": false}, "axis": {"title": "before 4-AP", "titleY": 28}}
  }
},
{
  "width": 280, "height": 52, "data": {"name": "slow"}, "mark": {"type": "line", "strokeWidth": 1.4},
  "encoding": {
    "x": {"field": "t", "type": "quantitative", "scale": {"domain": [0, 10], "nice": false, "zero": false}, "axis": null},
    "y": {"field": "C2", "type": "quantitative", "scale": {"domain": [-85.3, 67.6], "nice": false, "zero": false}, "axis": {"title": "10 min after 4-AP", "titleY": 27}}
  }
},
{
  "width": 280, "height": 73, "data": {"name": "fast"}, "mark": {"type": "line", "strokeWidth": 1.1},
  "encoding": {
    "x": {"field": "t", "type": "quantitative", "scale": {"domain": [0, 10], "nice": false, "zero": false}, "axis": null},
    "y": {"field": "C3", "type": "quantitative", "scale": {"domain": [-117.6, 97.1], "nice": false, "zero": false}, "axis": {"title": "20 min after 4-AP", "titleY": 30}}
  }
},
{
  "width": 280, "height": 100, "data": {"name": "fast"}, "mark": {"type": "line", "strokeWidth": 1.0},
  "encoding": {
    "x": {"field": "t", "type": "quantitative", "scale": {"domain": [0, 10], "nice": false, "zero": false}, "axis": null},
    "y": {"field": "C4", "type": "quantitative", "scale": {"domain": [-147.1, 147.1], "nice": false, "zero": false}, "axis": {"title": "30 min after 4-AP", "titleY": 48}}
  }
},
{
  "width": 280, "height": 69,
  "data": {"values": [{}]},
  "layer": [
    {"mark": {"type": "rule", "stroke": "#000", "strokeWidth": 1.2},
     "encoding": {
       "x": {"datum": 8.93, "type": "quantitative", "scale": {"domain": [0, 10], "nice": false, "zero": false}, "axis": null},
       "x2": {"datum": 9.93},
       "y": {"datum": 0, "type": "quantitative", "scale": {"domain": [-123.5, 79.4], "nice": false, "zero": false}, "axis": null}
     }},
    {"mark": {"type": "rule", "stroke": "#000", "strokeWidth": 1.2},
     "encoding": {
       "x": {"datum": 9.93, "type": "quantitative"},
       "y": {"datum": 0, "type": "quantitative"},
       "y2": {"datum": 50}
     }},
    {"mark": {"type": "text", "text": "50 µV", "align": "left", "fontSize": 19},
     "encoding": {"x": {"datum": 10.32, "type": "quantitative"}, "y": {"datum": 6, "type": "quantitative"}}},
    {"mark": {"type": "text", "text": "1 s", "align": "center", "fontSize": 19},
     "encoding": {"x": {"datum": 9.45, "type": "quantitative"}, "y": {"datum": -100, "type": "quantitative"}}}
  ]
}
]
}
